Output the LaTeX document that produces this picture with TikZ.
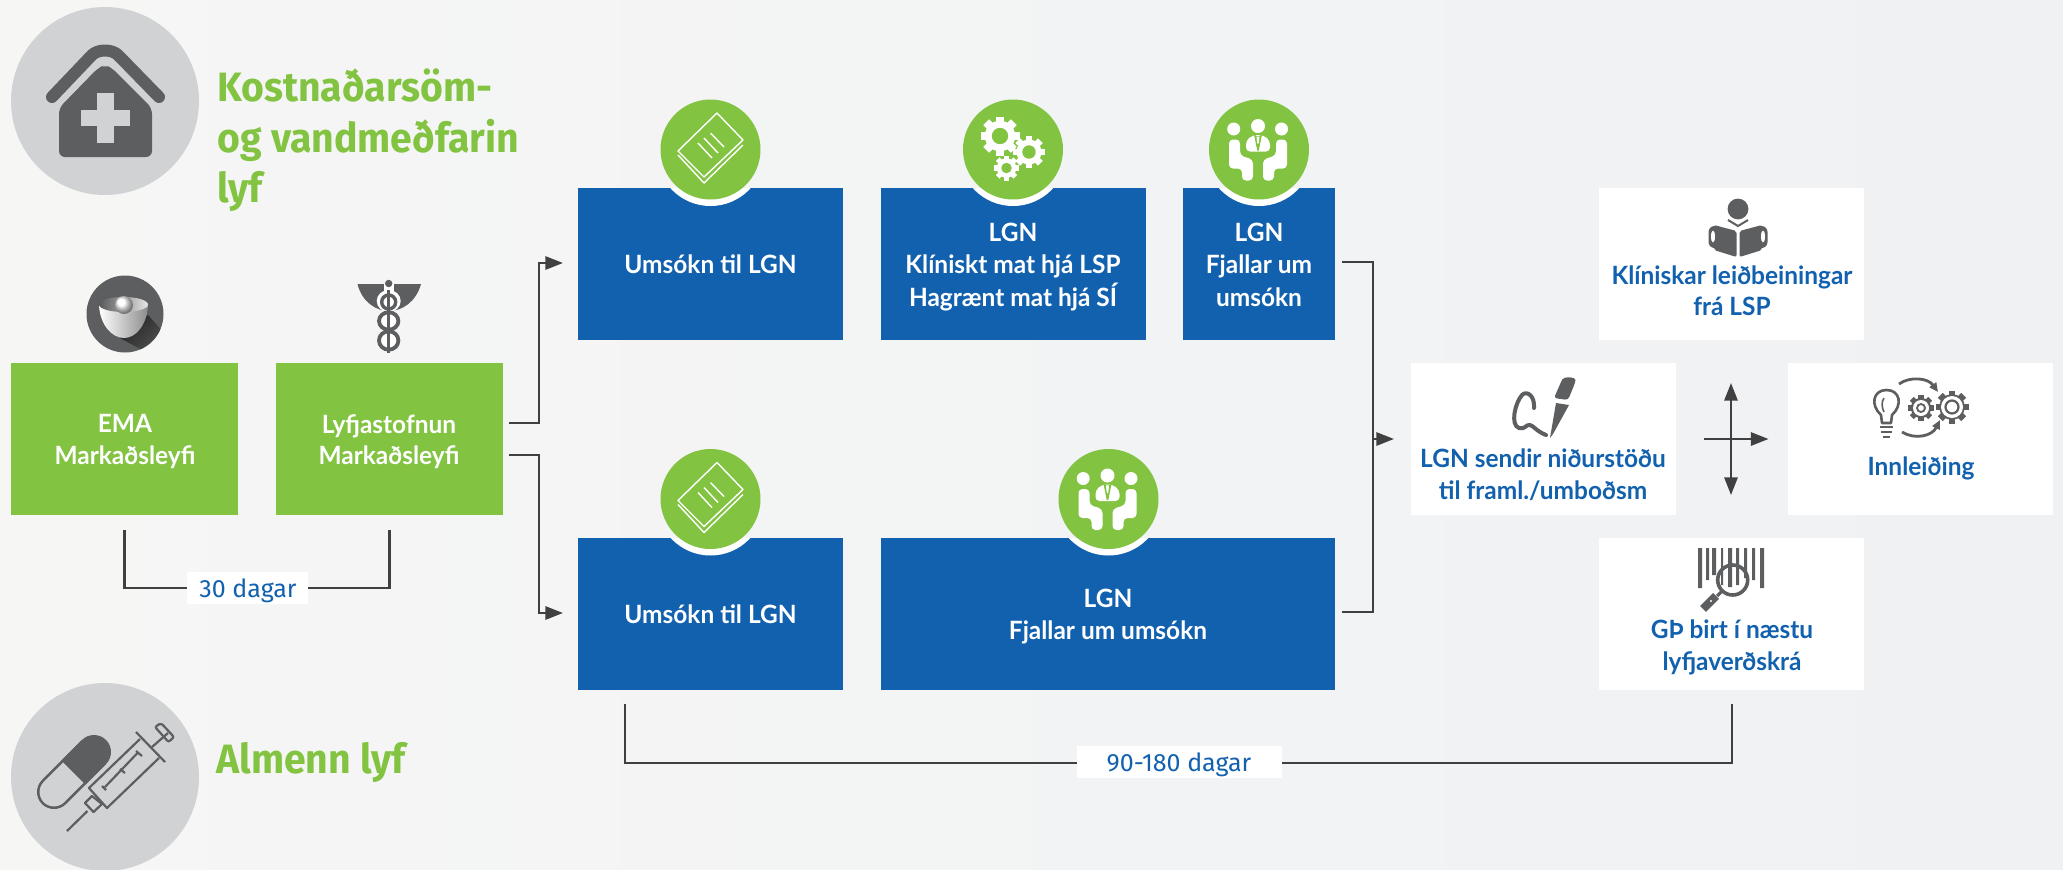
\documentclass[tikz,border=0pt]{standalone}
\usepackage{fontspec}
\usetikzlibrary{arrows.meta,calc}
\setmainfont{Lato}
\newfontfamily\titlef[FakeStretch=0.955]{Fira Sans}
\newfontfamily\bodyf[FakeStretch=0.97]{Lato}
\newfontfamily\durf{Fira Sans}
\definecolor{bluebox}{HTML}{1261AF}
\definecolor{greenbox}{HTML}{82C341}
\definecolor{darkline}{HTML}{404041}
\definecolor{icon}{HTML}{5D5E60}
\definecolor{disc}{HTML}{D1D2D4}
\definecolor{bgl}{HTML}{F6F6F5}
\definecolor{bgr}{HTML}{EFF1F3}
\tikzset{
 x=0.5pt,y=-0.5pt,
 gbox/.style={fill=greenbox,minimum height=76pt,minimum width=113.5pt,inner sep=0,outer sep=0},
 bbox/.style={fill=bluebox,minimum height=76pt,inner sep=0,outer sep=0},
 wbox/.style={fill=white,minimum height=76pt,minimum width=132.5pt,inner sep=0,outer sep=0},
 conn/.style={draw=darkline,line width=1.1pt,line join=miter},
 arr/.style={conn,-{Triangle[length=8.8pt,width=6.6pt]}},
 wtxt/.style={text=white,font=\bodyf\bfseries\fontsize{12.6}{14}\selectfont,anchor=base,inner sep=0},
 btxt/.style={text=bluebox,font=\bodyf\bfseries\fontsize{12.6}{14}\selectfont,anchor=base,inner sep=0},
 ttl/.style={text=greenbox,font=\titlef\bfseries\fontsize{20.5}{24}\selectfont,anchor=base west,inner sep=0},
 durbox/.style={fill=white,inner sep=0,outer sep=0,minimum height=16pt},
 durtxt/.style={text=bluebox,font=\durf\fontsize{12.5}{14}\selectfont,inner sep=0,anchor=base},
 gcirc/.style={fill=greenbox},
 ln/.style={draw=icon,line width=1.1pt},
 wl/.style={draw=white,line width=0.7pt,line join=round},
}
\newcommand{\gearico}[6]{% x y r teeth fg hole
 \begin{scope}[shift={(#1,#2)}]
 \pgfmathsetmacro{\tw}{#3*0.21}
 \foreach \i in {1,...,#4}{\draw[#5,line width=\tw pt] ({\i*360/#4}:#3*0.6) -- ({\i*360/#4}:#3);}
 \fill[#5] (0,0) circle (#3*0.78);
 \fill[#6] (0,0) circle (#3*0.42);
 \end{scope}}
\newcommand{\bookico}[2]{%
 \begin{scope}[shift={(#1,#2)}]
 \draw[wl] (6.5,-36.5) -- (32.5,-9.5) -- (-6.5,27.5) -- (-32.5,1.5) -- cycle;
 \draw[wl] (-32.5,5.5) -- (-6.5,33.5) -- (32.5,-4.5);
 \draw[wl] (-12.5,-6.5) -- (1.5,8.5) (-6.5,-11.5) -- (7.5,3.5) (0,-16.5) -- (13.5,-2.5);
 \end{scope}}
\newcommand{\meetico}[2]{%
 \begin{scope}[shift={(#1-1,#2)}]
 \fill[white] (-24.3,-20.5) circle (6.5) (0,-23.5) circle (7) (23.5,-20.5) circle (6.5);
 \fill[white,rounded corners=2pt] (-29,-10) -- (-18,-10) -- (-18,6) -- (-5,10) -- (-5,31) -- (-16,31) -- (-16,19) -- (-29,19) -- cycle;
 \fill[white,rounded corners=2pt] (29,-10) -- (18,-10) -- (18,6) -- (5,10) -- (5,31) -- (16,31) -- (16,19) -- (29,19) -- cycle;
 \fill[white,rounded corners=2pt] (-12,2) -- (-12,-9) -- (-5,-14.5) -- (5,-14.5) -- (12,-9) -- (12,2) -- cycle;
 \fill[greenbox] (-4,-15) -- (0,-13) -- (4,-15) -- (0.8,1) -- (-0.8,1) -- cycle;
 \fill[white] (-1.5,-13) -- (1.5,-13) -- (0.7,-6) -- (-0.7,-6) -- cycle;
 \end{scope}}
\begin{document}
\begin{tikzpicture}
\shade[left color=bgl,right color=bgr] (0,0) rectangle (2063,869);
\path[use as bounding box] (0,0) rectangle (2063,869);

% house disc
\fill[disc] (105,101) circle (94);
\fill[icon,rounded corners=3pt] (59,108) -- (98,68) -- (105,65) -- (112,68) -- (152,108) -- (152,157) -- (59,157) -- cycle;
\draw[icon,line width=6pt,line cap=round,line join=round] (52,97) -- (92,55) .. controls (98,49) and (112,49) .. (118,55) -- (159,97);
\fill[disc] (81,110) rectangle (130,126);
\fill[disc] (97,93) rectangle (114,143);
\node[ttl] (t1) at (217,101) {Kostnaðarsöm-};
\node[ttl] (t2) at (217,152) {og vandmeðfarin};
\node[ttl] (t3) at (217,202) {lyf};

% pill disc
\fill[disc] (105,777) circle (94);
\draw[icon,line width=17pt,line cap=round] (54,792) -- (94,752);
\draw[disc,line width=14.4pt,line cap=round] (54,792) -- (73.5,772.5);
\draw[icon,line width=17pt] (73.5,772.5) -- (94,752);
\begin{scope}[ln]
\draw (67,831) -- (87.5,811);
\draw[line join=round] (85,803) -- (93.5,812) -- (102,804) -- (92,796) -- cycle;
\draw[line join=round] (140,739) -- (89,788) -- (107,808) -- (159,758);
\draw (136,732) -- (165,762);
\draw (152,747) -- (168,733);
\draw[rounded corners=1pt] (155,727) -- (161,723) -- (174,737) -- (168.5,742) -- cycle;
\draw (105,787) -- (137.5,753);
\draw (102,786) -- (106,790) (120,769) -- (125,773) (136,751) -- (142,756);
\end{scope}
\node[ttl] (t4) at (216,773) {Almenn lyf};

% EMA icon
\fill[icon] (125,314) circle (38.5);
\begin{scope}
\clip (125,314) circle (38.5);
\shade[left color=black!85,right color=icon,shading angle=45] (120,338) -- (148,315) -- (175,345) -- (160,360) -- cycle;
\end{scope}
\shade[left color=white,right color=black!45] (99,305) .. controls (100,325) and (112,338) .. (124,338) .. controls (136,338) and (147,325) .. (148,305) -- cycle;
\shade[left color=black!65,right color=black!10] (123.5,304.5) ellipse (24.5 and 7.5);
\shade[ball color=white] (124,305) circle (9);

% caduceus icon
\fill[icon] (357.5,284) .. controls (362,302) and (376,311) .. (389,311) .. controls (402,311) and (416,302) .. (421,284) -- cycle;
\fill[white] (388.7,301) ellipse (12 and 11);
\fill[white] (384,284) rectangle (393.5,292);
\draw[icon,line width=1.7pt] (388.7,302) ellipse (7 and 7);
\draw[icon,line width=1.9pt,fill=white] (388.7,321) ellipse (9.7 and 8.7);
\draw[icon,line width=1.9pt,fill=white] (388.7,340.5) ellipse (9.7 and 9.2);
\draw[icon,line width=1.3pt] (388.7,290) -- (388.7,353);
\fill[icon] (388.7,283.5) circle (3.7);

% green boxes
\node[gbox] (ema) at (124.5,439) {};
\node[gbox] (lyf) at (389.5,439) {};
\node[wtxt] (ema1) at (125,432) {EMA};
\node[wtxt] (ema2) at (125,464) {Markaðsleyfi};
\node[wtxt] (lyf1) at (389,433) {Lyfjastofnun};
\node[wtxt] (lyf2) at (389,464) {Markaðsleyfi};

% blue boxes
\node[bbox,minimum width=132.5pt] (u1) at (710.5,264) {};
\node[bbox,minimum width=132.5pt] (k1) at (1013.5,264) {};
\node[bbox,minimum width=76pt] (f1) at (1259,264) {};
\node[bbox,minimum width=132.5pt] (u2) at (710.5,614) {};
\node[bbox,minimum width=227pt] (f2) at (1108,614) {};
\foreach \n/\cx/\cy in {u1/710.5/149.5,k1/1013/149.5,f1/1259/149.5,u2/710.5/499,f2/1108.5/499}{
 \begin{scope}
 \clip (\n.north west) rectangle (\n.south east);
 \fill[white] (\cx,\cy+2.5) circle (54);
 \end{scope}
 \fill[gcirc] (\cx,\cy) circle (50);
}
\bookico{710.5}{149.5}
\bookico{710.5}{499}
\gearico{1000}{136}{19.5}{8}{white}{greenbox}
\gearico{1029}{152}{16}{8}{white}{greenbox}
\gearico{1006.5}{168}{12.5}{8}{white}{greenbox}
\meetico{1259}{149.5}
\meetico{1108.5}{499}

\node[wtxt] (u1t) at (710.5,273) {Umsókn til LGN};
\node[wtxt] (k1a) at (1013,241) {LGN};
\node[wtxt] (k1b) at (1013,273) {Klíniskt mat hjá LSP};
\node[wtxt] (k1c) at (1013,306) {Hagrænt mat hjá SÍ};
\node[wtxt] (f1a) at (1259,241) {LGN};
\node[wtxt] (f1b) at (1259,273) {Fjallar um};
\node[wtxt] (f1c) at (1259,306) {umsókn};
\node[wtxt] (u2t) at (710.5,623) {Umsókn til LGN};
\node[wtxt] (f2a) at (1108,607) {LGN};
\node[wtxt] (f2b) at (1108,639) {Fjallar um umsókn};

% white boxes
\node[wbox] (kl) at (1731.5,264) {};
\node[wbox] (sn) at (1543.5,439) {};
\node[wbox] (in) at (1920.5,439) {};
\node[wbox] (gp) at (1731.5,614) {};

% reader icon
\fill[icon] (1738,209) circle (10.4);
\draw[icon,line width=1pt] (1728,220) -- (1738,226) -- (1748,220);
\fill[icon,rounded corners=1pt] (1714,225) -- (1736.5,231) -- (1736.5,257) -- (1714,250) -- cycle;
\fill[icon,rounded corners=1pt] (1762,225) -- (1739.5,231) -- (1739.5,257) -- (1762,250) -- cycle;
\fill[icon,rounded corners=3pt] (1708.5,226) rectangle (1720,248);
\fill[icon,rounded corners=3pt] (1756,226) rectangle (1767.5,248);
\fill[white] (1713,236.5) ellipse (2 and 6);
\fill[white] (1763,236.5) ellipse (2 and 6);
\node[btxt] (kla) at (1732,284) {Klíniskar leiðbeiningar};
\node[btxt] (klb) at (1732,315) {frá LSP};

% pen icon
\fill[icon,rounded corners=1.5pt] (1554,398) -- (1561,382) .. controls (1564,376) and (1576,377) .. (1575,383) -- (1568,400) -- cycle;
\fill[icon] (1556,403) -- (1569,405) -- (1553,434) -- (1550,438) -- cycle;
\draw[icon,line width=2pt,line cap=round,line join=round] (1534,408) .. controls (1535,396) and (1527,390) .. (1522,395) .. controls (1515,403) and (1510,425) .. (1519,428) .. controls (1525,430) and (1526,424) .. (1530,425) .. controls (1534,426) and (1536,431) .. (1546,435);
\node[btxt] (sna) at (1543,467) {LGN sendir niðurstöðu};
\node[btxt] (snb) at (1543,499) {til framl./umboðsm};

% innleiding icon
\draw[icon,line width=1.3pt,line join=round] (1881,415) .. controls (1870,405) and (1873,390) .. (1886.5,390) .. controls (1900,390) and (1903,405) .. (1892,415) -- (1891,423) -- (1882,423) -- cycle;
\draw[icon,line width=1.3pt] (1880,427) -- (1893,427) (1881,432) -- (1892,432) (1883,437) -- (1890,437);
\draw[icon,line width=0.8pt] (1884,398) .. controls (1881,402) and (1882,408) .. (1884,412);
\gearico{1921}{408}{13}{8}{icon}{white}
\fill[white] (1921,408) circle (8);
\draw[icon,line width=.9pt] (1921,408) circle (4);
\gearico{1952}{407}{16.5}{8}{icon}{white}
\fill[white] (1952,407) circle (11);
\draw[icon,line width=1.1pt] (1952,407) circle (6.5);
\draw[icon,line width=1.4pt,-{Triangle[length=4.5pt,width=4pt]}] (1899,384) .. controls (1910,376) and (1928,378) .. (1938,392);
\draw[icon,line width=1.4pt,-{Triangle[length=4.5pt,width=4pt]}] (1902,432) .. controls (1915,440) and (1932,436) .. (1940,420);
\node[btxt] (int) at (1921,475) {Innleiðing};

% barcode icon
\fill[icon] (1698,548) rectangle (1702,588) (1706,548) rectangle (1709,580) (1712,548) rectangle (1716,575) (1721,548) rectangle (1723,585) (1728,548) rectangle (1732,587) (1736,548) rectangle (1739,585) (1744,548) rectangle (1747,578) (1752,548) rectangle (1755,580) (1760,548) rectangle (1764,588);
\draw[icon,line width=1.8pt] (1732.7,580) circle (15);
\draw[icon,line width=1.6pt] (1722,591) -- (1717,596);
\draw[icon,line width=4.2pt] (1716,596) -- (1703,609);
\fill[white] (1711,601) circle (1.2);
\node[btxt] (gpa) at (1732,638) {GÞ birt í næstu};
\node[btxt] (gpb) at (1732,670) {lyfjaverðskrá};

% connectors
\draw[arr] ($(lyf.east)+(6,-16)$) -- ++(30,0) |- ($(u1.west)+(-15,-1)$);
\draw[arr] ($(lyf.east)+(6,16)$) -- ++(30,0) |- ($(u2.west)+(-15,-1)$);
\draw[conn] ($(f1.east)+(7,-2)$) -| ($(sn.west)+(-38,0)$) |- ($(f2.east)+(7,-2)$);
\draw[arr] ($(sn.west)+(-38,0)$) -- ($(sn.west)+(-17,0)$);
\draw[arr] (1703.5,439) -- (1768.5,439);
\draw[conn,{Triangle[length=8.8pt,width=6.6pt]}-{Triangle[length=8.8pt,width=6.6pt]}] (1731,383) -- (1731,495);

\draw[conn] ($(ema.south)+(0,15)$) |- ($(ema.south)+(0,73)$) -- ($(lyf.south)+(0,73)$) -- ($(lyf.south)+(0,15)$);
\node[durbox,minimum width=60.5pt] (d30) at (247.5,588) {};
\node[durtxt] (d30t) at (248,597.7) {30 dagar};
\draw[conn] ($(u2.south west)+(47,14)$) -- ++(0,59) -| ($(gp.south)+(0.5,14)$);
\node[durbox,minimum width=102.5pt] (d90) at (1179.5,762) {};
\node[durtxt] (d90t) at (1179,771.7) {90-180 dagar};
\end{tikzpicture}
\end{document}
